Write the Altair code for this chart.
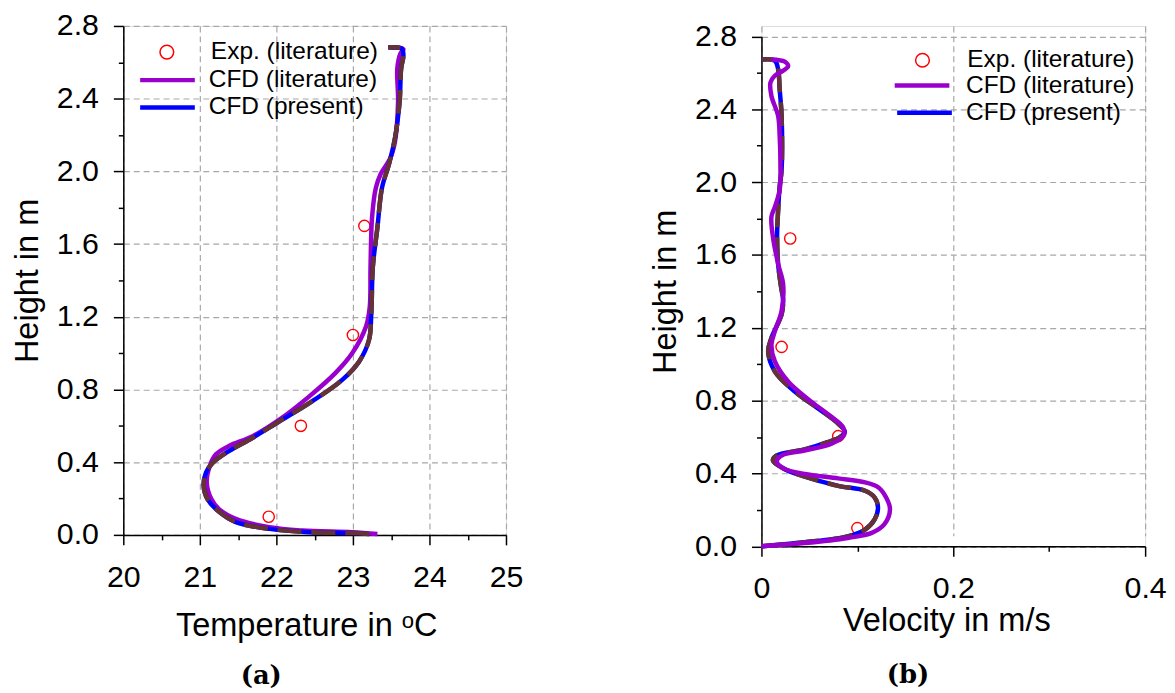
import altair as alt
import pandas as pd

SERIES = ["Exp. (literature)", "CFD (literature)", "CFD (present)"]
COLORS = ["#ff0000", "#9a00cd", "#0000ff"]
BROWN = "#663333"

# ---------- panel (a): temperature ----------
a_exp_T = [23.15, 23.0, 22.32, 21.9]
a_exp_h = [1.70, 1.10, 0.60, 0.10]

a_lit_T = [23.32, 22.99, 22.34, 21.91, 21.47, 21.25, 21.15, 21.09, 21.13, 21.21, 21.38, 21.69,
           22.04, 22.43, 22.77, 22.99, 23.17, 23.22, 23.23, 23.25, 23.30, 23.36, 23.49, 23.55,
           23.59, 23.58, 23.62, 23.66, 23.60, 23.49]
a_lit_h = [0.005, 0.015, 0.024, 0.042, 0.088, 0.142, 0.197, 0.288, 0.379, 0.443, 0.489, 0.543,
           0.634, 0.762, 0.89, 0.999, 1.145, 1.254, 1.473, 1.746, 1.91, 1.983, 2.074, 2.165,
           2.384, 2.566, 2.648, 2.672, 2.68, 2.68]

a_pre_T = [23.21, 22.99, 22.43, 21.91, 21.47, 21.26, 21.10, 21.05, 21.08, 21.17, 21.38, 21.69,
           22.04, 22.43, 22.86, 23.08, 23.21, 23.24, 23.26, 23.32, 23.38, 23.47, 23.55, 23.61,
           23.63, 23.66, 23.64, 23.55, 23.46]
a_pre_h = [0.005, 0.01, 0.015, 0.033, 0.07, 0.124, 0.197, 0.27, 0.343, 0.397, 0.461, 0.534,
           0.625, 0.725, 0.853, 0.953, 1.072, 1.217, 1.473, 1.691, 1.91, 2.038, 2.184, 2.384,
           2.566, 2.64, 2.675, 2.682, 2.682]

# ---------- panel (b): velocity ----------
b_exp_v = [0.03, 0.021, 0.08, 0.10]
b_exp_h = [1.69, 1.095, 0.605, 0.10]

b_lit_v = [0.0, 0.045, 0.09, 0.115, 0.128, 0.134, 0.13, 0.122, 0.108, 0.08, 0.045, 0.024, 0.016,
           0.021, 0.045, 0.073, 0.086, 0.085, 0.073, 0.052, 0.028, 0.014, 0.0104, 0.014, 0.021,
           0.0226, 0.0174, 0.012, 0.0104, 0.014, 0.019, 0.0198, 0.019, 0.0174, 0.0104, 0.0094,
           0.0139, 0.0226, 0.0278, 0.0243, 0.0104]
b_lit_h = [0.0, 0.018, 0.046, 0.074, 0.12, 0.203, 0.268, 0.323, 0.351, 0.373, 0.397, 0.425, 0.465,
           0.498, 0.526, 0.563, 0.609, 0.655, 0.711, 0.794, 0.904, 1.015, 1.107, 1.181, 1.292,
           1.44, 1.55, 1.698, 1.809, 1.864, 1.956, 2.104, 2.252, 2.363, 2.473, 2.547,
           2.584, 2.612, 2.636, 2.661, 2.673]

b_pre_v = [0.0, 0.045, 0.09, 0.108, 0.118, 0.1215, 0.118, 0.108, 0.08, 0.042, 0.024, 0.012, 0.0156,
           0.045, 0.069, 0.082, 0.087, 0.08, 0.059, 0.035, 0.014, 0.007, 0.0104, 0.021, 0.0226,
           0.02, 0.0174, 0.0163, 0.0174, 0.019, 0.021, 0.021, 0.019, 0.0174, 0.0139, 0.0]
b_pre_h = [0.0, 0.022, 0.055, 0.092, 0.148, 0.212, 0.268, 0.305, 0.332, 0.388, 0.425, 0.471, 0.498,
           0.532, 0.572, 0.6, 0.628, 0.674, 0.757, 0.849, 0.96, 1.07, 1.144, 1.274, 1.347,
           1.44, 1.55, 1.698, 1.846, 1.975, 2.067, 2.363, 2.51, 2.62, 2.667, 2.673]

# ---------- ticks ----------
a_x_major = [20, 21, 22, 23, 24, 25]
a_x_minor = [20.5, 21.5, 22.5, 23.5, 24.5]
b_x_major = [0, 0.2, 0.4]
b_x_minor = [0.1, 0.3]
y_major = [0.0, 0.4, 0.8, 1.2, 1.6, 2.0, 2.4, 2.8]
y_minor = [0.2, 0.6, 1.0, 1.4, 1.8, 2.2, 2.6]


def frame(xs, ys, name):
    return pd.DataFrame({"x": xs, "y": ys, "series": name, "i": list(range(len(xs)))})


FONT = "Liberation Sans"


def major_axis(orient, values, fmt, title, label_pad, title_pad, title_x=None):
    kw = dict(
        orient=orient, values=values, format=fmt, title=title,
        tickSize=10, tickWidth=1.5, tickColor="black",
        domainColor="black", domainWidth=1.5,
        labelFont=FONT, labelFontSize=30.5, labelColor="black", labelPadding=label_pad,
        labelOverlap=False, labelFlush=False, labelBound=False,
        titleFont=FONT, titleFontSize=32.7, titleFontWeight="normal", titleColor="black",
        titlePadding=title_pad,
        grid=True, gridDash=[6, 4], gridColor="#a8a8a8", gridWidth=1.2,
    )
    if title_x is not None:
        kw["titleX"] = title_x
    return alt.Axis(**kw)


def minor_axis(orient, values):
    return alt.Axis(
        orient=orient, values=values, labels=False, domain=False, grid=False, title=None,
        tickSize=5, tickWidth=1.5, tickColor="black",
    )


def mk_legend(lx, ly, label_offset, circle):
    kw = dict(
        title=None, orient="none", legendX=lx, legendY=ly, padding=0,
        labelFont=FONT, labelFontSize=24.6, labelColor="black", labelOffset=label_offset,
        labelLimit=0, symbolOpacity=1,
    )
    if circle:
        kw.update(symbolType="circle", symbolSize=190, symbolStrokeWidth=1.5,
                  symbolFillColor="transparent")
    else:
        kw.update(symbolType="stroke", symbolSize=3025, symbolStrokeWidth=4.5)
    return alt.Legend(**kw)


def panel(exp_df, lit_df, pre_df, xdom, yrange, x_major, x_minor, xfmt, xtitle,
          x_label_pad, x_title_pad, x_title_x, leg, purple_on_top, width, height, caption,
          cap_offset, cap_dx):
    xs = alt.Scale(domain=xdom, nice=False, zero=False)
    if yrange is None:
        ys = alt.Scale(domain=[0, 2.8], nice=False, zero=False)
    else:
        ys = alt.Scale(domain=[0, 2.8], nice=False, zero=False, range=yrange)

    exp = alt.Chart(exp_df).mark_point(
        shape="circle", filled=False, size=128, strokeWidth=1.4, opacity=1
    ).encode(
        x=alt.X("x:Q", scale=xs,
                axis=major_axis("bottom", x_major, xfmt, xtitle, x_label_pad, x_title_pad,
                                x_title_x)),
        y=alt.Y("y:Q", scale=ys,
                axis=major_axis("left", y_major, ".1f", "Height in m", 15, 12)),
        color=alt.Color("series:N", scale=alt.Scale(domain=[SERIES[0]], range=[COLORS[0]]),
                        legend=mk_legend(*leg[0], True)),
    )

    def line(df, idx, axis_x, axis_y, col=None, dash=None):
        kw = dict(strokeWidth=4.5, interpolate="catmull-rom", strokeCap="butt")
        if dash is not None:
            kw["strokeDash"] = dash
        enc = dict(
            x=alt.X("x:Q", scale=xs, axis=axis_x),
            y=alt.Y("y:Q", scale=ys, axis=axis_y),
            order=alt.Order("i:Q"),
        )
        if col is None:
            enc["color"] = alt.Color(
                "series:N", scale=alt.Scale(domain=[SERIES[idx]], range=[COLORS[idx]]),
                legend=mk_legend(*leg[idx], False))
        else:
            enc["color"] = alt.value(col)
        return alt.Chart(df).mark_line(**kw).encode(**enc)

    mx = minor_axis("bottom", x_minor)
    my = minor_axis("left", y_minor)
    brown = line(pre_df, 2, None, None, col=BROWN, dash=[24, 10])

    if purple_on_top:
        layers = [exp, line(pre_df, 2, mx, my), brown, line(lit_df, 1, None, None)]
    else:
        layers = [exp, line(lit_df, 1, mx, my), line(pre_df, 2, None, None), brown]

    return alt.layer(*layers).resolve_axis(x="independent", y="independent").resolve_scale(
        color="independent"
    ).properties(
        width=width, height=height,
        title=alt.TitleParams(
            text=caption, orient="bottom", anchor="middle", frame="bounds",
            font="DejaVu Serif", fontSize=26, fontWeight="bold", color="black",
            offset=cap_offset, dx=cap_dx,
        ),
    )


# legend placements: (legendX, legendY, labelOffset) for Exp, CFD lit, CFD present
leg_a = [(31.5, 14, 32), (14.45, 24.5, 11.5), (14.45, 52, 11.5)]
leg_b = [(149.7, 22.2, 32.8), (131.55, 30, 14.25), (134.05, 57.3, 11.75)]

panel_a = panel(
    frame(a_exp_T, a_exp_h, SERIES[0]), frame(a_lit_T, a_lit_h, SERIES[1]),
    frame(a_pre_T, a_pre_h, SERIES[2]),
    [20, 25], None, a_x_major, a_x_minor, "d", "Temperature in \u1d52C",
    17.5, 17, 184, leg_a, False, 385, 512, "(a)", 21, -6,
)

panel_b = panel(
    frame(b_exp_v, b_exp_h, SERIES[0]), frame(b_lit_v, b_lit_h, SERIES[1]),
    frame(b_pre_v, b_pre_h, SERIES[2]),
    [0, 0.4], [523.5, 10.5], b_x_major, b_x_minor, "~g", "Velocity in m/s",
    17.5, 1, 186, leg_b, True, 386, 523.5, "(b)", 25, 0,
)

chart = alt.hconcat(panel_a, panel_b, spacing=126).properties(
    padding={"left": 3, "top": 0, "right": 0, "bottom": 0}
).configure_view(stroke=None).configure(background="white")

chart.save("out.html", embed_options={"renderer": "svg", "actions": False})
